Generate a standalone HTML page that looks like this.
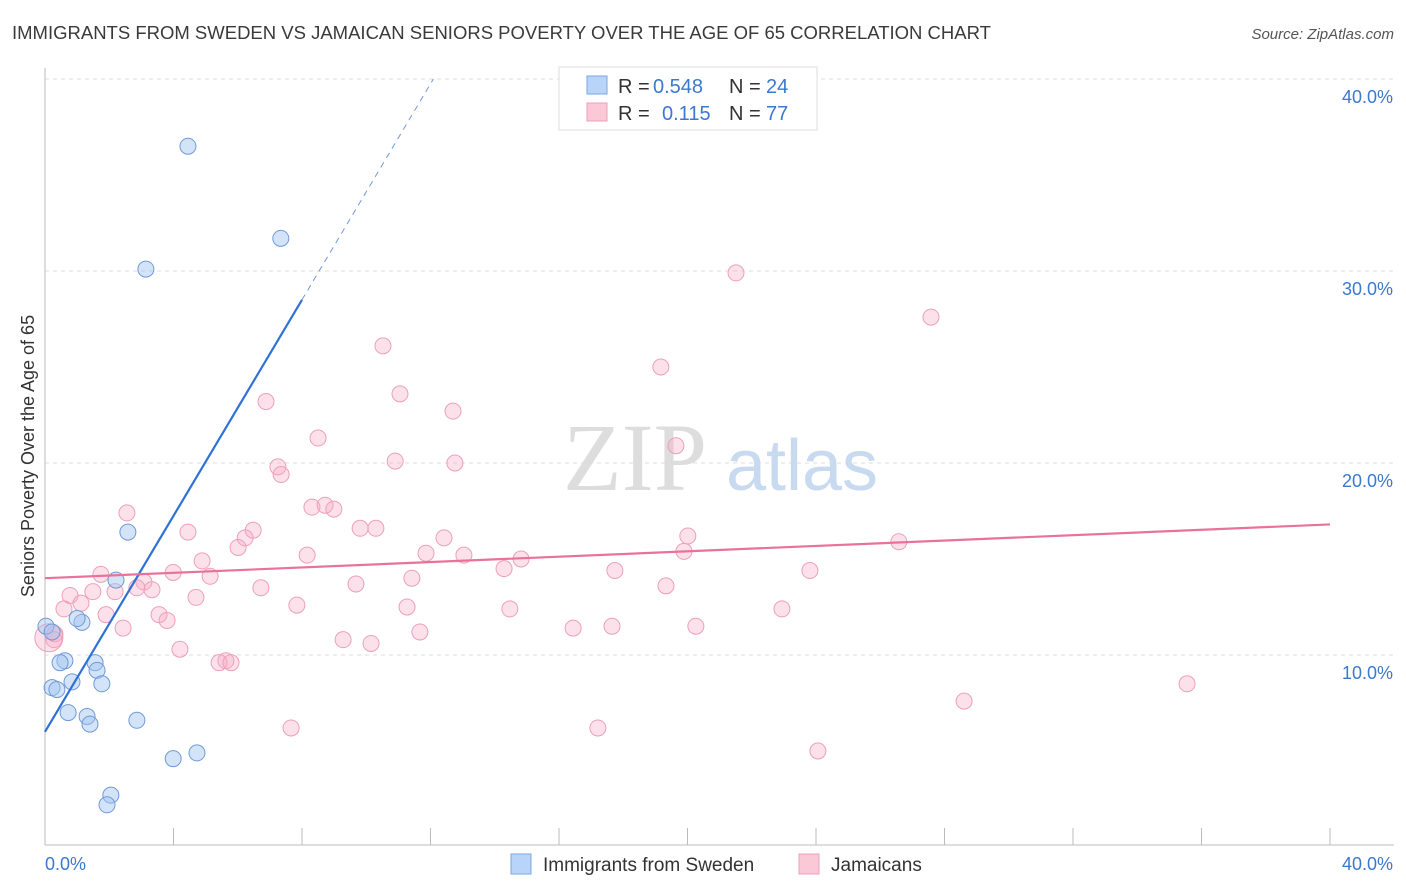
<!DOCTYPE html>
<html><head><meta charset="utf-8"><style>
body{margin:0;background:#fff;font-family:"Liberation Sans",sans-serif;}
svg{display:block}
</style></head><body>
<svg width="1406" height="892" xmlns="http://www.w3.org/2000/svg">
<text x="12" y="39" font-size="18.5" fill="#3a3a3a">IMMIGRANTS FROM SWEDEN VS JAMAICAN SENIORS POVERTY OVER THE AGE OF 65 CORRELATION CHART</text>
<text x="1394" y="39" font-size="15" fill="#555" font-style="italic" text-anchor="end">Source: ZipAtlas.com</text>
<g id="grid"></g>
<g>
<text x="635" y="490" font-size="96" font-family="Liberation Serif" fill="#ddd" text-anchor="middle">ZIP</text>
<text x="802" y="490" font-size="72" fill="#c8daf0" text-anchor="middle">atlas</text>
</g>
<line x1="45" y1="68" x2="45" y2="845" stroke="#bbb"/>
<line x1="45" y1="845" x2="1394" y2="845" stroke="#bbb"/>
<g id="ticks"></g>
<g id="pts"></g>
<g id="trends"></g>
<text x="34" y="456" font-size="18" fill="#333" text-anchor="middle" transform="rotate(-90 34 456)">Seniors Poverty Over the Age of 65</text>
<text x="45" y="870" font-size="18" fill="#3b78d0">0.0%</text>
<text x="1393" y="870" font-size="18" fill="#3b78d0" text-anchor="end">40.0%</text>
<g>
<rect x="559" y="67" width="258" height="63" fill="#fff" stroke="#ddd"/>
<rect x="587" y="76" width="20" height="18" fill="#b8d4f8" stroke="#7aa6e0"/>
<rect x="587" y="103" width="20" height="18" fill="#fbc8d8" stroke="#eda0b8"/>
<text x="618" y="93" font-size="20" fill="#333">R =</text>
<text x="653" y="93" font-size="20" fill="#3b78d0">0.548</text>
<text x="729" y="93" font-size="20" fill="#333">N =</text>
<text x="766" y="93" font-size="20" fill="#3b78d0">24</text>
<text x="618" y="120" font-size="20" fill="#333">R =</text>
<text x="662" y="120" font-size="20" fill="#3b78d0">0.115</text>
<text x="729" y="120" font-size="20" fill="#333">N =</text>
<text x="766" y="120" font-size="20" fill="#3b78d0">77</text>
</g>
<g>
<rect x="511" y="854" width="20" height="20" fill="#b8d4f8" stroke="#7aa6e0"/>
<text x="543" y="871" font-size="19" fill="#333">Immigrants from Sweden</text>
<rect x="799" y="854" width="20" height="20" fill="#fbc8d8" stroke="#eda0b8"/>
<text x="831" y="871" font-size="19" fill="#333">Jamaicans</text>
</g>
</svg>
<script>
const blueX=[4.45,7.34,3.14,2.58,2.21,0.03,0.22,1.15,1.00,0.62,0.47,1.56,1.62,0.84,1.77,0.22,0.37,0.72,1.31,1.40,2.86,4.73,3.99,2.05,1.93];
const blueY=[36.5,31.7,30.1,16.4,13.9,11.5,11.2,11.7,11.9,9.7,9.6,9.6,9.2,8.6,8.5,8.3,8.2,7.0,6.8,6.4,6.6,4.9,4.6,2.7,2.2];
const pinkX=[21.51,27.58,10.52,19.17,11.05,6.88,12.70,8.50,19.64,10.90,12.76,7.25,7.35,8.31,8.72,8.99,2.55,4.45,9.81,10.30,6.48,6.23,12.42,20.01,26.58,6.01,19.89,8.16,11.86,13.04,14.82,4.89,14.29,17.74,23.81,3.99,1.74,5.14,11.42,3.08,9.68,6.72,19.33,2.86,3.33,2.18,1.49,0.78,4.70,1.12,0.59,7.84,11.27,14.47,22.94,1.90,3.55,3.80,2.43,16.44,17.65,20.26,11.67,0.31,0.28,9.28,10.15,4.20,5.63,5.42,5.79,35.55,28.61,7.66,17.21,24.06,0.12];
const pinkY=[29.9,27.6,26.1,25.0,23.6,23.2,22.7,21.3,20.9,20.1,20.0,19.8,19.4,17.7,17.8,17.6,17.4,16.4,16.6,16.6,16.5,16.1,16.1,16.2,15.9,15.6,15.4,15.2,15.3,15.2,15.0,14.9,14.5,14.4,14.4,14.3,14.2,14.1,14.0,13.8,13.7,13.5,13.6,13.5,13.4,13.3,13.3,13.1,13.0,12.7,12.4,12.6,12.5,12.4,12.4,12.1,12.1,11.8,11.4,11.4,11.5,11.5,11.2,11.1,10.8,10.8,10.6,10.3,9.7,9.6,9.6,8.5,7.6,6.2,6.2,5.0,10.9];
const blueTrend=[0,6.0,8,28.5];
const pinkTrend=[0,14.0,40,16.8];
const yTicks=[10,20,30,40];
const X=v=>45+v*32.125, Y=v=>847-v*19.2;
const NS='http://www.w3.org/2000/svg';
function mk(p,t,a){const e=document.createElementNS(NS,t);for(const k in a)e.setAttribute(k,a[k]);p.appendChild(e);return e;}
const grid=document.getElementById('grid');
yTicks.forEach(t=>{
 const l=mk(grid,'line',{x1:45,x2:1394,y1:Y(t),y2:Y(t),stroke:'#ddd','stroke-dasharray':'4,4'});
 
 
 const tx=mk(grid,'text',{x:1393,y:Y(t)+24,'font-size':18,fill:'#3b78d0','text-anchor':'end'});
 tx.textContent=t.toFixed(1)+'%';
 
 
});
const ticks=document.getElementById('ticks');
for(let i=0;i<=10;i++){const l=mk(ticks,'line',{x1:X(i*4),x2:X(i*4),y1:828,y2:845,stroke:'#bbb'});
 
 }
const pts=document.getElementById('pts');
pinkX.forEach((x,i)=>{const c=mk(pts,'circle',{cx:X(x),cy:Y(pinkY[i]),r:i==pinkX.length-1?14:8,fill:'rgba(248,170,195,0.35)',stroke:'#eda0b8','stroke-width':1});
 
 });
blueX.forEach((x,i)=>{const c=mk(pts,'circle',{cx:X(x),cy:Y(blueY[i]),r:8,fill:'rgba(160,195,240,0.45)',stroke:'#6f9ad8','stroke-width':1});
 
 });
const tr=document.getElementById('trends');
const slope=(blueTrend[3]-blueTrend[1])/(blueTrend[2]-blueTrend[0]);
const xEnd=(40-blueTrend[1])/slope;
let b1=mk(tr,'line',{x1:X(0),y1:Y(blueTrend[1]),x2:X(blueTrend[2]),y2:Y(blueTrend[3]),stroke:'#2f72d6','stroke-width':2.2});


let b2=mk(tr,'line',{x1:X(blueTrend[2]),y1:Y(blueTrend[3]),x2:X(xEnd),y2:Y(40),stroke:'#6f9ad8','stroke-width':1,'stroke-dasharray':'6,5'});


let p1=mk(tr,'line',{x1:X(pinkTrend[0]),y1:Y(pinkTrend[1]),x2:X(pinkTrend[2]),y2:Y(pinkTrend[3]),stroke:'#e8729a','stroke-width':2.2});


</script>
</body></html>
